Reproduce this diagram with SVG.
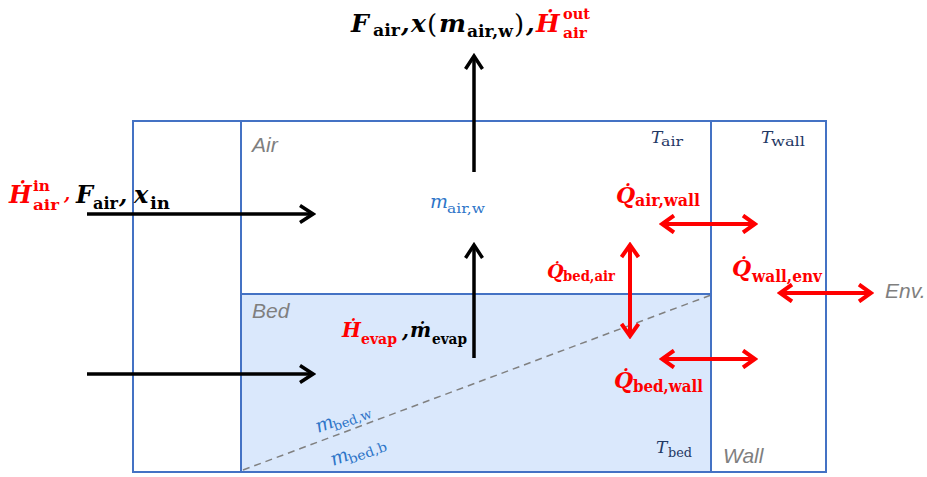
<svg xmlns="http://www.w3.org/2000/svg" width="927" height="477" viewBox="0 0 927 477">
<style>
.box{fill:none;stroke:#4472c4;stroke-width:2}
.m{font-family:"DejaVu Serif","Liberation Serif",serif;font-style:italic;font-weight:bold}
.s{font-family:"DejaVu Serif","Liberation Serif",serif;font-weight:bold}
.mi{font-family:"DejaVu Serif","Liberation Serif",serif;font-style:italic}
.si{font-family:"DejaVu Serif","Liberation Serif",serif}
.r{fill:#ff0000}
.k{fill:#000}
.b{fill:#2e75c8}
.n{fill:#1f3864}
.lbl{font-family:"Liberation Sans",sans-serif;font-style:italic;fill:#7f7f7f;font-size:21px}
.ka{stroke:#000;stroke-width:3.5;fill:none;marker-end:url(#ah)}
.ra{stroke:#ff0000;stroke-width:4;fill:none;marker-end:url(#rh);marker-start:url(#rh)}
</style>
<defs>
<marker id="ah" viewBox="0 0 20 20" refX="17" refY="10" markerWidth="20" markerHeight="20" orient="auto-start-reverse" markerUnits="userSpaceOnUse">
<path d="M4,1.5 L17,10 L4,18.5" fill="none" stroke="#000" stroke-width="3.5"/>
</marker>
<marker id="rh" viewBox="0 0 20 20" refX="17" refY="10" markerWidth="20" markerHeight="20" orient="auto-start-reverse" markerUnits="userSpaceOnUse">
<path d="M5,1.5 L17,10 L5,18.5" fill="none" stroke="#ff0000" stroke-width="4"/>
</marker>
</defs>
<g id="bed">
<rect x="241" y="294" width="470" height="178" fill="#dae8fc"/>
<line x1="243" y1="470" x2="711" y2="295" stroke="#808080" stroke-width="1.5" stroke-dasharray="7,5"/>
<text class="lbl" x="252" y="318">Bed</text>
<g transform="translate(318,433) rotate(-20)">
<text class="mi b" x="0" y="0" font-size="19">m</text>
<text class="si b" x="17" y="4" font-size="13" textLength="40" lengthAdjust="spacingAndGlyphs">bed,w</text>
</g>
<g transform="translate(333,466) rotate(-20)">
<text class="mi b" x="0" y="0" font-size="19">m</text>
<text class="si b" x="17" y="4" font-size="13" textLength="40" lengthAdjust="spacingAndGlyphs">bed,b</text>
</g>
<text class="mi n" x="656" y="453" font-size="17">T</text>
<text class="si n" x="668" y="457" font-size="13" textLength="24" lengthAdjust="spacingAndGlyphs">bed</text>
</g>
<g id="air">
<text class="lbl" x="252" y="152">Air</text>
<text class="mi b" x="430" y="208" font-size="19">m</text>
<text class="si b" x="447" y="213" font-size="13" textLength="38" lengthAdjust="spacingAndGlyphs">air,w</text>
<text class="mi n" x="651" y="143" font-size="17">T</text>
<text class="si n" x="661" y="146" font-size="13" textLength="22" lengthAdjust="spacingAndGlyphs">air</text>
</g>
<g id="wall">
<text class="lbl" x="723" y="463">Wall</text>
<text class="mi n" x="761" y="143" font-size="17">T</text>
<text class="si n" x="771" y="146" font-size="13" textLength="34" lengthAdjust="spacingAndGlyphs">wall</text>
</g>
<g id="frame">
<rect class="box" x="133" y="121" width="693" height="351"/>
<line class="box" x1="241" y1="121" x2="241" y2="472"/>
<line class="box" x1="711" y1="121" x2="711" y2="472"/>
<line class="box" x1="241" y1="294" x2="711" y2="294"/>
</g>
<g id="env">
<text class="lbl" x="885" y="298" font-size="20">Env.</text>
</g>
<g id="connectors">
<line class="ka" x1="474" y1="172" x2="474" y2="56"/>
<line class="ka" x1="474" y1="358" x2="474" y2="245"/>
<line class="ka" x1="87" y1="214" x2="313" y2="214"/>
<line class="ka" x1="87" y1="374" x2="313" y2="374"/>
<line class="ra" x1="630" y1="245" x2="630" y2="336"/>
<line class="ra" x1="662" y1="224" x2="755" y2="224"/>
<line class="ra" x1="662" y1="359" x2="755" y2="359"/>
<line class="ra" x1="780" y1="293" x2="871" y2="293"/>
</g>
<g id="title">
<text class="m k" x="351" y="32" font-size="25">F</text>
<text class="s k" x="373" y="36" font-size="16" textLength="27" lengthAdjust="spacingAndGlyphs">air</text>
<text class="m k" x="401" y="32" font-size="25">,</text>
<text class="m k" x="411" y="32" font-size="25">x</text>
<text class="si k" x="427" y="33" font-size="26">(</text>
<text class="m k" x="439" y="32" font-size="25" textLength="27" lengthAdjust="spacingAndGlyphs">m</text>
<text class="s k" x="467" y="37" font-size="16" textLength="46" lengthAdjust="spacingAndGlyphs">air,w</text>
<text class="si k" x="514" y="33" font-size="26">)</text>
<text class="m k" x="526" y="32" font-size="25">,</text>
<text class="m r" x="536" y="32" font-size="25">Ḣ</text>
<text class="s r" x="563" y="19" font-size="14" textLength="27" lengthAdjust="spacingAndGlyphs">out</text>
<text class="s r" x="563" y="38" font-size="14" textLength="24" lengthAdjust="spacingAndGlyphs">air</text>
</g>
<g id="inlet">
<text class="m r" x="9" y="203" font-size="24">Ḣ</text>
<text class="s r" x="33" y="191" font-size="14" textLength="17" lengthAdjust="spacingAndGlyphs">in</text>
<text class="s r" x="33" y="210" font-size="14" textLength="26" lengthAdjust="spacingAndGlyphs">air</text>
<text class="m r" x="64" y="200" font-size="18">,</text>
<text class="m k" x="76" y="203" font-size="24">F</text>
<text class="s k" x="93" y="209" font-size="16" textLength="25" lengthAdjust="spacingAndGlyphs">air</text>
<text class="m k" x="119" y="203" font-size="24">,</text>
<text class="m k" x="134" y="203" font-size="24">x</text>
<text class="s k" x="150" y="209" font-size="16" textLength="20" lengthAdjust="spacingAndGlyphs">in</text>
</g>
<g id="heat-labels">
<text class="m r" x="616" y="203" font-size="22">Q̇</text>
<text class="s r" x="635" y="206" font-size="16" textLength="65" lengthAdjust="spacingAndGlyphs">air,wall</text>
<text class="m r" x="547" y="278" font-size="19">Q̇</text>
<text class="s r" x="563" y="281" font-size="14" textLength="52" lengthAdjust="spacingAndGlyphs">bed,air</text>
<text class="m r" x="732" y="276" font-size="22">Q̇</text>
<text class="s r" x="752" y="282" font-size="16" textLength="70" lengthAdjust="spacingAndGlyphs">wall,env</text>
<text class="m r" x="614" y="388" font-size="22">Q̇</text>
<text class="s r" x="633" y="392" font-size="16" textLength="70" lengthAdjust="spacingAndGlyphs">bed,wall</text>
</g>
<g id="evap">
<text class="m r" x="342" y="337" font-size="20">Ḣ</text>
<text class="s r" x="361" y="344" font-size="15" textLength="36" lengthAdjust="spacingAndGlyphs">evap</text>
<text class="m k" x="402" y="337" font-size="20">,</text>
<text class="m k" x="410" y="337" font-size="20">ṁ</text>
<text class="s k" x="432" y="344" font-size="15" textLength="35" lengthAdjust="spacingAndGlyphs">evap</text>
</g>
</svg>
